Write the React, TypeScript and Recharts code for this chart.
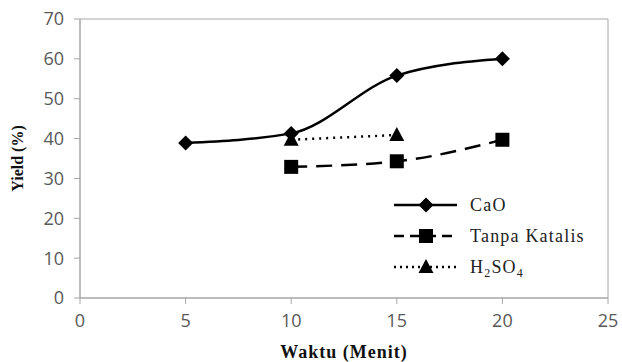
import React from "react";
import {
  LineChart,
  Line,
  XAxis,
  YAxis,
  ReferenceArea,
  Legend,
  Label,
} from "recharts";

const waktu = [5, 10, 15, 20];
const caoYield = [38.9, 41.3, 55.8, 60];
const tanpaWaktu = [10, 15, 20];
const tanpaYield = [32.9, 34.3, 39.7];
const h2so4Waktu = [10, 15];
const h2so4Yield = [39.7, 40.9];
const xTicks = [0, 5, 10, 15, 20, 25];
const yTicks = [0, 10, 20, 30, 40, 50, 60, 70];

const caoData = waktu.map((x, i) => ({ x, y: caoYield[i] }));
const tanpaData = tanpaWaktu.map((x, i) => ({ x, y: tanpaYield[i] }));
const h2so4Data = h2so4Waktu.map((x, i) => ({ x, y: h2so4Yield[i] }));

const tickStyle = { fontSize: 18, fill: "#595959", fontFamily: "'Open Sans', sans-serif" };
const titleFont = "'Liberation Serif', 'DejaVu Serif', serif";

const Diamond = (props: any) => {
  const { cx, cy, key } = props;
  if (cx == null || cy == null) return null;
  return <path key={key} d={`M${cx},${cy - 7.5}L${cx + 7.5},${cy}L${cx},${cy + 7.5}L${cx - 7.5},${cy}Z`} fill="#000" />;
};

const Square = (props: any) => {
  const { cx, cy, key } = props;
  if (cx == null || cy == null) return null;
  return <rect key={key} x={cx - 7} y={cy - 7} width={14} height={14} fill="#000" />;
};

const Triangle = (props: any) => {
  const { cx, cy, key } = props;
  if (cx == null || cy == null) return null;
  return <path key={key} d={`M${cx},${cy - 8}L${cx + 7.5},${cy + 6}L${cx - 7.5},${cy + 6}Z`} fill="#000" />;
};

const legendItems = [
  { name: "CaO", dash: undefined, marker: Diamond },
  { name: "Tanpa Katalis", dash: "10 6", marker: Square },
  { name: "H2SO4", dash: "2 4", marker: Triangle },
];

const renderLegend = () => (
  <svg width={230} height={90}>
    {legendItems.map((item, i) => {
      const y = 11 + i * 31;
      const M = item.marker;
      return (
        <g key={item.name}>
          <line x1={4} x2={67} y1={y} y2={y} stroke="#000" strokeWidth={2.5} strokeDasharray={item.dash} />
          <M cx={36} cy={y} />
          <text x={80} y={y + 6} fontSize={18} letterSpacing={1.2} fontFamily={titleFont} fill="#222">
            {item.name === "H2SO4" ? (
              <>
                H<tspan fontSize={12} dy={4}>2</tspan>
                <tspan dy={-4}>SO</tspan>
                <tspan fontSize={12} dy={4}>4</tspan>
              </>
            ) : (
              item.name
            )}
          </text>
        </g>
      );
    })}
  </svg>
);

export default function App() {
  return (
    <div style={{ width: 622, height: 362, background: "#fff" }}>
      <style>{"body{margin:0}"}</style>
      <LineChart width={622} height={362} margin={{ top: 19, right: 14, bottom: 34, left: 0 }}>
        <XAxis
          type="number"
          dataKey="x"
          domain={[0, 25]}
          ticks={xTicks}
          allowDuplicatedCategory={false}
          tick={tickStyle}
          tickSize={6}
          tickMargin={10}
          stroke="#a6a6a6"
          height={30}
        >
          <Label
            value="Waktu (Menit)"
            position="bottom"
            offset={17}
            style={{ fontSize: 18, fontWeight: "bold", letterSpacing: 1, fontFamily: titleFont, fill: "#111" }}
          />
        </XAxis>
        <YAxis
          type="number"
          dataKey="y"
          domain={[0, 70]}
          ticks={yTicks}
          tick={tickStyle}
          tickSize={6}
          tickMargin={10}
          stroke="#a6a6a6"
          width={80}
        >
          <Label
            value="Yield (%)"
            angle={-90}
            position="insideLeft"
            offset={17}
            style={{ fontSize: 16, fontWeight: "bold", fontFamily: titleFont, fill: "#111", textAnchor: "middle" }}
          />
        </YAxis>
        <ReferenceArea x1={0} x2={25} y1={0} y2={70} fill="none" stroke="#a6a6a6" strokeWidth={1} />
        <Legend
          content={renderLegend}
          layout="vertical"
          align="center"
          verticalAlign="middle"
          wrapperStyle={{ left: 390, top: 194, width: 230 }}
        />
        <Line
          data={caoData}
          dataKey="y"
          name="CaO"
          type="monotone"
          stroke="#000"
          strokeWidth={2.5}
          dot={Diamond}
          activeDot={false}
          isAnimationActive={false}
        />
        <Line
          data={tanpaData}
          dataKey="y"
          name="Tanpa Katalis"
          type="monotone"
          stroke="#000"
          strokeWidth={2.5}
          strokeDasharray="16 9"
          dot={Square}
          activeDot={false}
          isAnimationActive={false}
        />
        <Line
          data={h2so4Data}
          dataKey="y"
          name="H2SO4"
          type="monotone"
          stroke="#000"
          strokeWidth={2.5}
          strokeDasharray="2 5"
          dot={Triangle}
          activeDot={false}
          isAnimationActive={false}
        />
      </LineChart>
    </div>
  );
}
